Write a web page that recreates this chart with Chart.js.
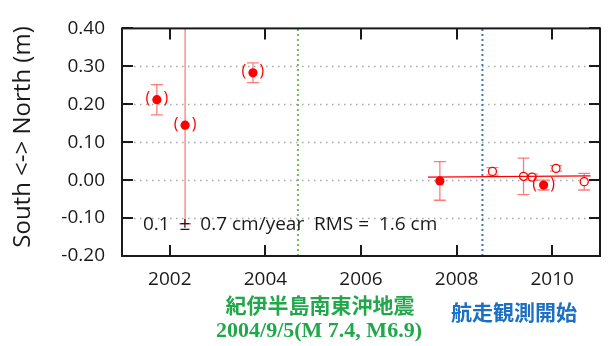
<!DOCTYPE html>
<html>
<head>
<meta charset="utf-8">
<script src="https://cdn.jsdelivr.net/npm/chart.js@4.4.1/dist/chart.umd.min.js"></script>
<style>
  html, body { margin: 0; padding: 0; background: #ffffff; }
  #wrap { width: 615px; height: 346px; position: relative; }
</style>
</head>
<body>
<div id="wrap"><canvas id="gpsChart" width="615" height="346"></canvas></div>
<script>
// --- DATA ---
const obsYears   = [2001.73, 2002.32, 2003.74, 2007.65, 2008.75, 2009.40, 2009.58, 2009.82, 2010.08, 2010.67];
const northSouth = [0.212, 0.145, 0.283, -0.002, 0.023, 0.010, 0.008, -0.013, 0.031, -0.004];
const nsErrors   = [0.040, 0.260, 0.026, 0.051, 0.010, 0.048, 0.008, 0.013, 0.007, 0.022];
const isFilled   = [true, true, true, true, false, false, false, true, false, false];
const inBrackets = [true, true, true, false, false, false, false, true, false, false];

const trendYears = [2007.40, 2010.80];
const trendNS    = [0.008, 0.0114];

const quakeYear  = 2004.68;   // 2004/9/5
const surveyYear = 2008.54;   // start of ship-based observation

const xTicks = [2002, 2004, 2006, 2008, 2010];
const yTicks = [-0.2, -0.1, 0.0, 0.1, 0.2, 0.3, 0.4];

const xMin = 2001, xMax = 2011;
const yMin = -0.2, yMax = 0.4;

const RED = '#ff0000';
const ERR_RED = 'rgba(255, 100, 100, 0.85)';
const GREEN_LINE = '#6cbf4a';
const BLUE_LINE = '#3b74c4';
const GREEN_TEXT = '#20a84a';
const BLUE_TEXT = '#1c6fc2';
const FONT = "'Open Sans', 'DejaVu Sans', sans-serif";

// --- custom drawing: grid, error bars, frame, inward ticks, labels ---
const gpsDecor = {
    id: 'gpsDecor',
    beforeDatasetsDraw(chart) {
        const { ctx, chartArea: a, scales: { x, y } } = chart;
        ctx.save();

        // dotted horizontal grid lines
        ctx.strokeStyle = '#a8a8a8';
        ctx.lineWidth = 1.5;
        ctx.setLineDash([1.5, 4.5]);
        yTicks.forEach(v => {
            if (v <= yMin || v >= yMax) return;
            const py = Math.round(y.getPixelForValue(v)) + 0.5;
            ctx.beginPath();
            ctx.moveTo(a.left, py);
            ctx.lineTo(a.right, py);
            ctx.stroke();
        });
        ctx.setLineDash([]);

        // error bars
        ctx.beginPath();
        ctx.rect(a.left, a.top, a.right - a.left, a.bottom - a.top);
        ctx.clip();
        ctx.strokeStyle = ERR_RED;
        ctx.lineWidth = 1.3;
        obsYears.forEach((yr, i) => {
            const px = x.getPixelForValue(yr);
            const top = y.getPixelForValue(northSouth[i] + nsErrors[i]);
            const bot = y.getPixelForValue(northSouth[i] - nsErrors[i]);
            const cap = 6;
            ctx.beginPath();
            ctx.moveTo(px, top); ctx.lineTo(px, bot);
            ctx.moveTo(px - cap, top); ctx.lineTo(px + cap, top);
            ctx.moveTo(px - cap, bot); ctx.lineTo(px + cap, bot);
            ctx.stroke();
        });
        ctx.restore();
    },
    afterDatasetsDraw(chart) {
        const { ctx, chartArea: a, scales: { x, y } } = chart;
        ctx.save();

        // parentheses around the bracketed points
        ctx.fillStyle = RED;
        ctx.font = `16px ${FONT}`;
        ctx.textAlign = 'center';
        ctx.textBaseline = 'middle';
        obsYears.forEach((yr, i) => {
            if (!inBrackets[i]) return;
            const px = x.getPixelForValue(yr);
            const py = y.getPixelForValue(northSouth[i]);
            ctx.fillText('(', px - 9, py - 1);
            ctx.fillText(')', px + 9, py - 1);
        });

        // frame
        ctx.strokeStyle = '#1a1a1a';
        ctx.lineWidth = 2;
        ctx.strokeRect(a.left, a.top, a.right - a.left, a.bottom - a.top);

        // inward tick marks
        const tl = 11;
        ctx.beginPath();
        xTicks.forEach(v => {
            const px = Math.round(x.getPixelForValue(v));
            ctx.moveTo(px, a.bottom); ctx.lineTo(px, a.bottom - tl);
            ctx.moveTo(px, a.top); ctx.lineTo(px, a.top + tl);
        });
        yTicks.forEach(v => {
            const py = Math.round(y.getPixelForValue(v));
            ctx.moveTo(a.left, py); ctx.lineTo(a.left + tl, py);
            ctx.moveTo(a.right, py); ctx.lineTo(a.right - tl, py);
        });
        ctx.stroke();

        // trend annotation
        ctx.fillStyle = '#1a1a1a';
        ctx.font = `19px ${FONT}`;
        ctx.textAlign = 'left';
        ctx.textBaseline = 'alphabetic';
        ctx.fillText('0.1  \u00B1  0.7 cm/year  RMS =  1.6 cm', 143, 230);

        // y axis title
        ctx.save();
        ctx.translate(23, 137);
        ctx.rotate(-Math.PI / 2);
        ctx.textAlign = 'center';
        ctx.textBaseline = 'middle';
        ctx.font = `24px ${FONT}`;
        ctx.fillText('South <-> North (m)', 0, 0);
        ctx.restore();

        // event labels below the axis
        ctx.textAlign = 'center';
        ctx.textBaseline = 'middle';
        ctx.fillStyle = GREEN_TEXT;
        ctx.font = `bold 21px 'Noto Sans CJK JP', sans-serif`;
        ctx.fillText('紀伊半島南東沖地震', 320, 305);
        ctx.font = `bold 22px 'Liberation Serif', serif`;
        ctx.fillText('2004/9/5(M 7.4, M6.9)', 319, 331);
        ctx.fillStyle = BLUE_TEXT;
        ctx.font = `bold 21px 'Noto Sans CJK JP', sans-serif`;
        ctx.fillText('航走観測開始', 514, 312);

        ctx.restore();
    }
};

const pts = obsYears.map((yr, i) => ({ x: yr, y: northSouth[i] }));
const trendPts = trendYears.map((yr, i) => ({ x: yr, y: trendNS[i] }));
const vLine = (yr) => [{ x: yr, y: yMin }, { x: yr, y: yMax }];

const ctx = document.getElementById('gpsChart').getContext('2d');
new Chart(ctx, {
    type: 'scatter',
    data: {
        datasets: [
            {
                label: 'quake',
                data: vLine(quakeYear),
                showLine: true,
                borderColor: GREEN_LINE,
                borderWidth: 2,
                borderDash: [2, 3],
                pointRadius: 0
            },
            {
                label: 'survey',
                data: vLine(surveyYear),
                showLine: true,
                borderColor: BLUE_LINE,
                borderWidth: 2,
                borderDash: [2, 3],
                pointRadius: 0
            },
            {
                label: 'trend',
                data: trendPts,
                showLine: true,
                borderColor: RED,
                borderWidth: 1.2,
                pointRadius: 0
            },
            {
                label: 'north-south',
                data: pts,
                pointRadius: isFilled.map(f => f ? 4.6 : 4),
                pointBackgroundColor: isFilled.map(f => f ? RED : '#ffffff'),
                pointBorderColor: RED,
                pointBorderWidth: isFilled.map(f => f ? 0 : 1.3),
                showLine: false
            }
        ]
    },
    options: {
        responsive: false,
        animation: false,
        layout: { padding: { left: 0, right: 15, top: 15, bottom: 0 } },
        plugins: {
            legend: { display: false },
            tooltip: { enabled: false }
        },
        scales: {
            x: {
                type: 'linear',
                min: xMin,
                max: xMax,
                afterBuildTicks: (axis) => { axis.ticks = xTicks.map(v => ({ value: v })); },
                afterFit: (axis) => { axis.height = 90; },
                grid: { display: false, drawTicks: false },
                border: { display: false },
                ticks: {
                    color: '#1a1a1a',
                    font: { family: FONT, size: 19 },
                    padding: 12,
                    maxRotation: 0,
                    callback: (v) => String(v)
                }
            },
            y: {
                type: 'linear',
                min: yMin,
                max: yMax,
                afterBuildTicks: (axis) => { axis.ticks = yTicks.map(v => ({ value: v })); },
                afterFit: (axis) => { axis.width = 122; },
                grid: { display: false, drawTicks: false },
                border: { display: false },
                ticks: {
                    color: '#1a1a1a',
                    font: { family: FONT, size: 19 },
                    padding: 17,
                    callback: (v) => v.toFixed(2)
                }
            }
        }
    },
    plugins: [gpsDecor]
});
</script>
</body>
</html>
